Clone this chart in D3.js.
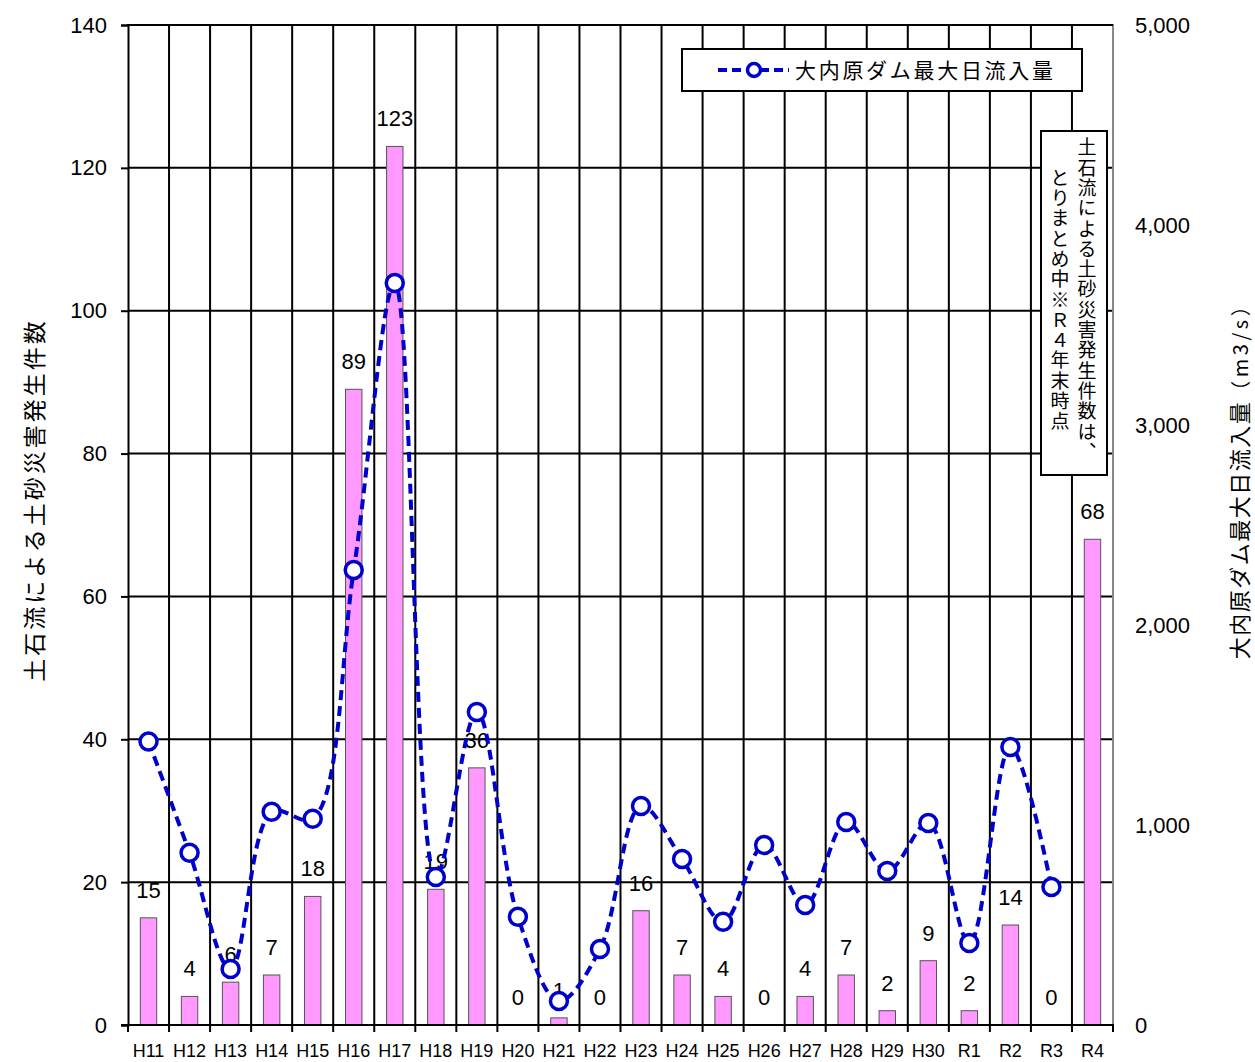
<!DOCTYPE html>
<html><head><meta charset="utf-8">
<script src="https://cdn.jsdelivr.net/npm/d3@7"></script>
<style>
html,body{margin:0;padding:0;background:#fff;}
svg text{font-family:"Liberation Sans","Noto Sans CJK JP",sans-serif;fill:#000;}
.jp{font-family:"Noto Sans CJK JP",sans-serif;}
</style></head>
<body>
<svg id="chart" width="1255" height="1062"></svg>
<script>
const categories = ["H11","H12","H13","H14","H15","H16","H17","H18","H19","H20","H21","H22","H23","H24","H25","H26","H27","H28","H29","H30","R1","R2","R3","R4"];
const counts = [15,4,6,7,18,89,123,19,36,0,1,0,16,7,4,0,4,7,2,9,2,14,0,68];
const inflow = [1418,861,280,1066,1031,2275,3710,740,1565,541,120,380,1095,830,516,900,600,1015,770,1010,410,1390,690,null];
const leftTicks = [0,20,40,60,80,100,120,140];
const rightTicks = [0,1000,2000,3000,4000,5000];
const leftTitle = "土石流による土砂災害発生件数";
const rightTitleMain = "大内原ダム最大日流入量";
const rightTitleUnit = "（m3/s）";
const legendLabel = "大内原ダム最大日流入量";
const noteLines = ["土石流による土砂災害発生件数は、","とりまとめ中※Ｒ４年末時点"];

const svg = d3.select("#chart");
const L = 128, R = 1113, T = 25, B = 1025;
const x = d3.scaleBand().domain(categories).range([L, R]).paddingInner(0).paddingOuter(0);
const yL = d3.scaleLinear().domain([0,140]).range([B, T]);
const yR = d3.scaleLinear().domain([0,5000]).range([B, T]);
const bw = x.bandwidth()*0.4;

// horizontal gridlines
svg.append("g").selectAll("line").data(leftTicks.filter(d=>d>0)).join("line")
  .attr("x1", L).attr("x2", R).attr("y1", d=>yL(d)).attr("y2", d=>yL(d))
  .attr("stroke", "#000").attr("stroke-width", 2);
// vertical gridlines at category boundaries
svg.append("g").selectAll("line").data(categories.slice(1)).join("line")
  .attr("x1", d=>x(d)).attr("x2", d=>x(d)).attr("y1", T).attr("y2", B)
  .attr("stroke", "#000").attr("stroke-width", 2);
// right border
svg.append("line").attr("x1", R).attr("x2", R).attr("y1", T-1).attr("y2", B)
  .attr("stroke", "#888").attr("stroke-width", 2);

// legend box
svg.append("rect").attr("x", 682).attr("y", 49).attr("width", 400).attr("height", 42)
  .attr("fill", "#fff").attr("stroke", "#000").attr("stroke-width", 2);
svg.append("line").attr("x1", 718).attr("x2", 789).attr("y1", 70).attr("y2", 70)
  .attr("stroke", "#0000CC").attr("stroke-width", 4).attr("stroke-dasharray", "9,5");
svg.append("circle").attr("cx", 754).attr("cy", 70).attr("r", 6.5)
  .attr("fill", "#fff").attr("stroke", "#0000CC").attr("stroke-width", 3.5);
svg.append("text").attr("class","jp").attr("x", 795).attr("y", 78)
  .attr("font-size", 21).attr("letter-spacing", 2.7).text(legendLabel);

// note box
svg.append("rect").attr("x", 1041).attr("y", 131).attr("width", 66).attr("height", 344)
  .attr("fill", "#fff").attr("stroke", "#000").attr("stroke-width", 2);
const noteX = [1087, 1060];
noteLines.forEach((t,i)=>{
  svg.append("text").attr("class","jp")
    .attr("x", noteX[i]).attr("y", 300)
    .attr("font-size", 19)
    .attr("text-anchor","middle")
    .style("writing-mode","vertical-rl")
    .attr("letter-spacing", 1.3)
    .text(t);
});

// bars
svg.append("g").selectAll("rect").data(categories).join("rect")
  .attr("x", d=>x(d)+x.bandwidth()/2-bw/2)
  .attr("width", bw)
  .attr("y", (d,i)=>yL(counts[i]))
  .attr("height", (d,i)=>B-yL(counts[i]))
  .attr("fill", "#FF99FF").attr("stroke", "#555").attr("stroke-width", 1);

// bar labels
svg.append("g").selectAll("text").data(categories).join("text")
  .attr("x", d=>x(d)+x.bandwidth()/2)
  .attr("y", (d,i)=>yL(counts[i])-20)
  .attr("text-anchor","middle").attr("font-size", 22)
  .text((d,i)=>counts[i]);

// line
const pts = categories.map((c,i)=>({c, v: inflow[i]})).filter(p=>p.v!=null);
const line = d3.line().x(p=>x(p.c)+x.bandwidth()/2).y(p=>yR(p.v)).curve(d3.curveCatmullRom.alpha(0.5));
svg.append("path").attr("d", line(pts)).attr("fill","none")
  .attr("stroke","#0000CC").attr("stroke-width",4).attr("stroke-dasharray","10,6");
svg.append("g").selectAll("circle").data(pts).join("circle")
  .attr("cx", p=>x(p.c)+x.bandwidth()/2).attr("cy", p=>yR(p.v)).attr("r", 8.5)
  .attr("fill","#fff").attr("stroke","#0000CC").attr("stroke-width",3.5);

// axes
const gL = svg.append("g").attr("transform",`translate(${L},0)`)
  .call(d3.axisLeft(yL).tickValues(leftTicks).tickSize(7).tickPadding(14));
gL.select(".domain").attr("stroke","#000").attr("stroke-width",2);
gL.selectAll(".tick line").attr("stroke","#000").attr("stroke-width",2);
gL.selectAll(".tick text").attr("font-size",22).attr("font-family","Liberation Sans");

const gR = svg.append("g").attr("transform",`translate(${R},0)`)
  .call(d3.axisRight(yR).tickValues(rightTicks).tickSize(0).tickPadding(22).tickFormat(d3.format(",")));
gR.select(".domain").remove();
gR.selectAll(".tick text").attr("font-size",22).attr("font-family","Liberation Sans");

// top border
svg.append("line").attr("x1", L-1).attr("x2", R).attr("y1", T).attr("y2", T)
  .attr("stroke","#000").attr("stroke-width",2);

// x axis
const gX = svg.append("g").attr("transform",`translate(0,${B})`);
gX.append("line").attr("x1", L-7).attr("x2", R+1).attr("y1",0).attr("y2",0).attr("stroke","#000").attr("stroke-width",2);
gX.selectAll(".xt").data(categories.concat(["__end"])).join("line").attr("class","xt")
  .attr("x1", d=>d==="__end"?R:x(d)).attr("x2", d=>d==="__end"?R:x(d))
  .attr("y1",0).attr("y2",7).attr("stroke","#000").attr("stroke-width",2);
gX.selectAll("text").data(categories).join("text")
  .attr("x", d=>x(d)+x.bandwidth()/2).attr("y", 32)
  .attr("text-anchor","middle").attr("font-size",18).text(d=>d);

// titles
svg.append("text").attr("class","jp")
  .attr("transform","translate(43,500) rotate(-90)")
  .attr("text-anchor","middle").attr("font-size",23).attr("letter-spacing",3)
  .text(leftTitle);
const rt = svg.append("text").attr("class","jp")
  .attr("transform","translate(1248,476) rotate(-90)")
  .attr("text-anchor","middle").attr("font-size",22).attr("letter-spacing",1.5);
rt.append("tspan").text(rightTitleMain);
rt.append("tspan").attr("font-size",20).attr("letter-spacing",3.5).text(rightTitleUnit);
</script>
</body></html>
